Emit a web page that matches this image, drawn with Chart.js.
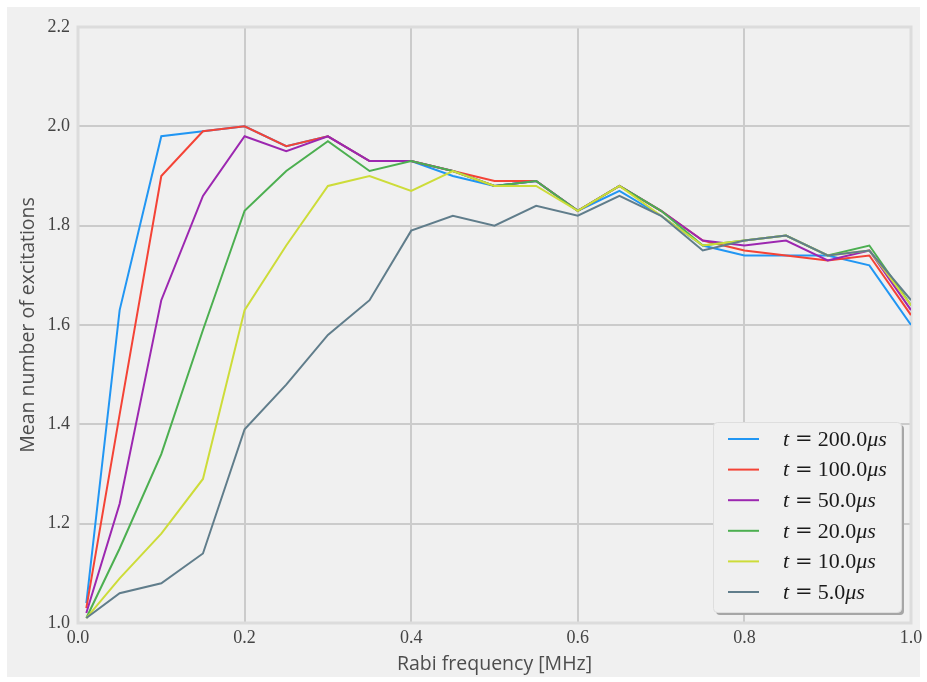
<!DOCTYPE html>
<html>
<head>
<meta charset="utf-8">
<script src="https://cdn.jsdelivr.net/npm/chart.js@4/dist/chart.umd.min.js"></script>
<style>
  html, body { margin: 0; padding: 0; background: #ffffff; }
  #wrap { width: 927px; height: 682px; position: relative; }
</style>
</head>
<body>
<div id="wrap"><canvas id="chart" width="927" height="682"></canvas></div>
<script>
// Rabi frequency (MHz) sampled for every run
const rabiFreq = [0.01, 0.05, 0.10, 0.15, 0.20, 0.25, 0.30, 0.35, 0.40, 0.45, 0.50,
                  0.55, 0.60, 0.65, 0.70, 0.75, 0.80, 0.85, 0.90, 0.95, 1.00];

// Mean number of excitations for each interaction time
const exc200us = [1.04, 1.63, 1.98, 1.99, 2.00, 1.96, 1.98, 1.93, 1.93, 1.90, 1.88,
                  1.89, 1.83, 1.87, 1.82, 1.76, 1.74, 1.74, 1.74, 1.72, 1.60];
const exc100us = [1.03, 1.42, 1.90, 1.99, 2.00, 1.96, 1.98, 1.93, 1.93, 1.91, 1.89,
                  1.89, 1.83, 1.88, 1.83, 1.77, 1.75, 1.74, 1.73, 1.74, 1.62];
const exc50us  = [1.02, 1.24, 1.65, 1.86, 1.98, 1.95, 1.98, 1.93, 1.93, 1.91, 1.88,
                  1.89, 1.83, 1.88, 1.83, 1.77, 1.76, 1.77, 1.73, 1.75, 1.63];
const exc20us  = [1.01, 1.15, 1.34, 1.59, 1.83, 1.91, 1.97, 1.91, 1.93, 1.91, 1.88,
                  1.89, 1.83, 1.88, 1.83, 1.76, 1.77, 1.78, 1.74, 1.76, 1.64];
const exc10us  = [1.01, 1.09, 1.18, 1.29, 1.63, 1.76, 1.88, 1.90, 1.87, 1.91, 1.88,
                  1.88, 1.83, 1.88, 1.82, 1.76, 1.77, 1.78, 1.74, 1.75, 1.64];
const exc5us   = [1.01, 1.06, 1.08, 1.14, 1.39, 1.48, 1.58, 1.65, 1.79, 1.82, 1.80,
                  1.84, 1.82, 1.86, 1.82, 1.75, 1.77, 1.78, 1.74, 1.75, 1.65];

// Interaction times shown in the legend (µs)
const timeLabels = ['200.0', '100.0', '50.0', '20.0', '10.0', '5.0'];
const seriesColors = ['#2196f3', '#f44336', '#9c27b0', '#4caf50', '#cddc39', '#607d8b'];

// Axis ticks
const xTickValues = [0.0, 0.2, 0.4, 0.6, 0.8, 1.0];
const yTickValues = [1.0, 1.2, 1.4, 1.6, 1.8, 2.0, 2.2];

const allSeries = [exc200us, exc100us, exc50us, exc20us, exc10us, exc5us];

const datasets = allSeries.map((vals, i) => ({
  label: 't = ' + timeLabels[i] + 'μs',
  data: vals.map((v, k) => ({ x: rabiFreq[k], y: v })),
  borderColor: seriesColors[i],
  backgroundColor: seriesColors[i],
  borderWidth: 2,
  pointRadius: 0,
  tension: 0,
  fill: false,
  order: allSeries.length - i   // shorter times are drawn on top
}));

const FIG_BG = '#f0f0f0';

// Figure background: white margin with a light gray panel
const figureBackground = {
  id: 'figureBackground',
  beforeDraw(chart) {
    const ctx = chart.ctx;
    ctx.save();
    ctx.fillStyle = '#ffffff';
    ctx.fillRect(0, 0, chart.width, chart.height);
    ctx.fillStyle = FIG_BG;
    ctx.fillRect(7, 7, 913, 670);
    ctx.restore();
  }
};

// Light frame around the plotting area
const plotFrame = {
  id: 'plotFrame',
  beforeDatasetsDraw(chart) {
    const { ctx, chartArea: a } = chart;
    ctx.save();
    ctx.strokeStyle = '#dcdcdc';
    ctx.lineWidth = 3;
    ctx.strokeRect(a.left, a.top, a.right - a.left, a.bottom - a.top);
    ctx.restore();
  }
};

// Legend with math-style labels: italic t and μs, upright numbers
const mathLegend = {
  id: 'mathLegend',
  afterDraw(chart) {
    const { ctx, chartArea: a } = chart;
    const w = 188, h = 190;
    const x0 = a.right - 10 - w;
    const y0 = a.bottom - 11 - h;
    ctx.save();
    // drop shadow
    ctx.fillStyle = '#a6a6a6';
    ctx.beginPath();
    ctx.roundRect(x0 + 3, y0 + 3, w, h, 4);
    ctx.fill();
    // box
    ctx.fillStyle = FIG_BG;
    ctx.strokeStyle = '#dedede';
    ctx.lineWidth = 1;
    ctx.beginPath();
    ctx.roundRect(x0 + 0.5, y0 + 0.5, w, h, 4);
    ctx.fill();
    ctx.stroke();

    const fs = 22;
    const upright = fs + 'px "Liberation Serif"';
    const italic = 'italic ' + fs + 'px "Liberation Serif"';
    const equals = '21px "DejaVu Serif"';
    chart.data.datasets.forEach((ds, i) => {
      const ry = y0 + 17 + i * 30.6;
      ctx.strokeStyle = ds.borderColor;
      ctx.lineWidth = 2;
      ctx.beginPath();
      ctx.moveTo(x0 + 15, ry);
      ctx.lineTo(x0 + 46, ry);
      ctx.stroke();

      ctx.fillStyle = '#1a1a1a';
      ctx.textBaseline = 'middle';
      ctx.textAlign = 'left';
      let tx = x0 + 70;
      const parts = [
        [italic, 't', 6],
        [equals, '=', 5],
        [upright, timeLabels[i], 0],
        [italic, 'μs', 0]
      ];
      parts.forEach(([font, txt, after]) => {
        ctx.font = font;
        ctx.fillText(txt, tx, ry + 1);
        tx += ctx.measureText(txt).width + after;
      });
    });
    ctx.restore();
  }
};

const tickFont = { family: '"Liberation Serif", serif', size: 18 };
const titleFont = { family: '"Open Sans", sans-serif', size: 19.5 };

new Chart(document.getElementById('chart'), {
  type: 'line',
  data: { datasets },
  options: {
    responsive: false,
    animation: false,
    devicePixelRatio: 1,
    layout: { padding: { top: 27, right: 16, left: 0, bottom: 0 } },
    plugins: {
      legend: { display: false },
      tooltip: { enabled: false }
    },
    scales: {
      x: {
        type: 'linear',
        min: 0,
        max: 1,
        afterBuildTicks(scale) { scale.ticks = xTickValues.map(v => ({ value: v })); },
        afterFit(scale) {
          scale.height = 59;
          scale.paddingLeft = 0;
          scale.paddingRight = 0;
        },
        ticks: {
          font: tickFont,
          color: '#444444',
          padding: 4,
          maxRotation: 0,
          callback: v => v.toFixed(1)
        },
        grid: { color: '#cbcbcb', lineWidth: 2, drawTicks: false },
        border: { display: false },
        title: {
          display: true,
          text: 'Rabi frequency [MHz]',
          font: titleFont,
          color: '#4d4d4d',
          padding: { top: 0, bottom: 6 }
        }
      },
      y: {
        type: 'linear',
        min: 1.0,
        max: 2.2,
        afterBuildTicks(scale) { scale.ticks = yTickValues.map(v => ({ value: v })); },
        afterFit(scale) {
          scale.width = 78;
          scale.paddingTop = 0;
          scale.paddingBottom = 0;
        },
        ticks: {
          font: tickFont,
          color: '#444444',
          padding: 8,
          callback: v => v.toFixed(1)
        },
        grid: { color: '#cbcbcb', lineWidth: 2, drawTicks: false },
        border: { display: false },
        title: {
          display: true,
          text: 'Mean number of excitations',
          font: titleFont,
          color: '#4d4d4d',
          padding: { top: 17, bottom: 0 }
        }
      }
    }
  },
  plugins: [figureBackground, plotFrame, mathLegend]
});
</script>
</body>
</html>
